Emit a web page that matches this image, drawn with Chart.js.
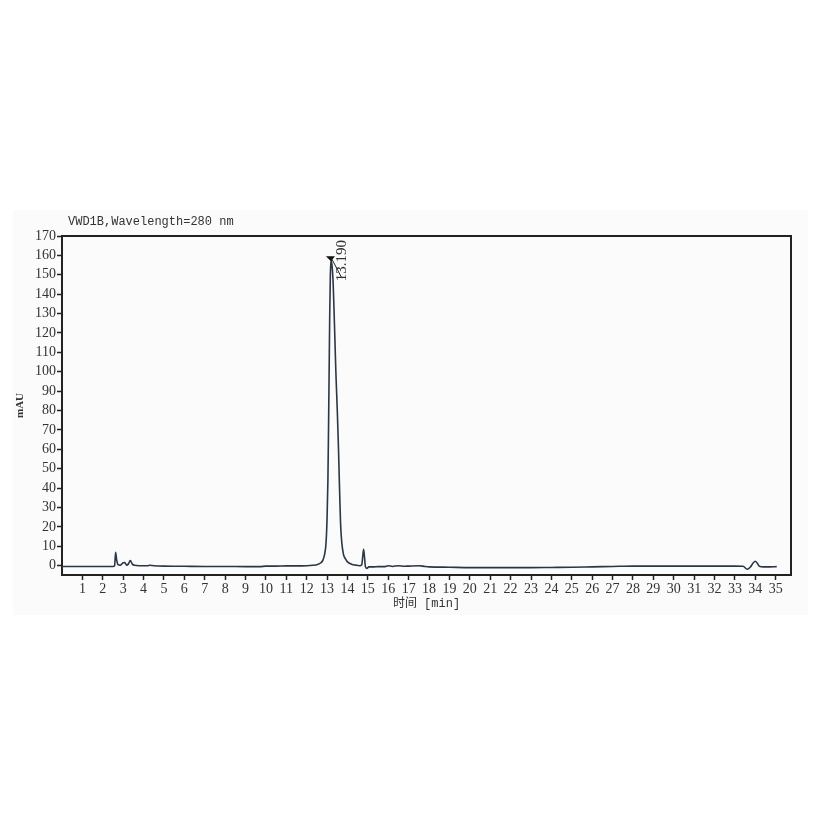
<!DOCTYPE html>
<html>
<head>
<meta charset="utf-8">
<script src="https://cdn.jsdelivr.net/npm/chart.js@4.4.1/dist/chart.umd.min.js"></script>
<style>
  html, body { margin: 0; padding: 0; background: #ffffff; }
  #wrap { width: 831px; height: 831px; position: relative; }
</style>
</head>
<body>
<div id="wrap"><canvas id="c" width="831" height="831"></canvas></div>
<script>
// ---- Data ----
const chartTitle = "VWD1B,Wavelength=280 nm";
const xAxisTitle = "时间 [min]";
const yAxisTitle = "mAU";
const peakLabel = "13.190";

const times = [
  0, 1, 2, 2.5, 2.58, 2.63, 2.68, 2.75, 2.85, 3.0, 3.08, 3.17, 3.25, 3.35, 3.45, 3.55, 3.8,
  4.2, 4.3, 4.5, 5, 6, 7, 8, 9, 9.7, 10, 10.5, 11, 11.5, 12, 12.3, 12.5,
  12.7, 12.8, 12.88, 12.95, 13.0, 13.04, 13.07, 13.1, 13.13, 13.16, 13.19, 13.24, 13.3, 13.36,
  13.43, 13.5, 13.56, 13.61, 13.66, 13.72, 13.8, 13.9, 14.0, 14.2, 14.4, 14.6,
  14.7, 14.75, 14.79, 14.83, 14.88, 14.95, 15.05, 15.3, 15.5, 15.8, 16.0, 16.2, 16.5,
  16.8, 17.0, 17.5, 17.8, 18, 19, 20, 21, 22, 23, 24, 25, 26, 27, 28, 29, 30, 31, 32, 33,
  33.4, 33.6, 33.75, 33.9, 34.0, 34.1, 34.2, 34.4, 34.7, 35.05
];
const signal = [
  -0.4, -0.4, -0.4, -0.4, 0, 6.9, 3, 0.5, 0.2, 1.5, 1.6, 0.3, 0.8, 2.6, 0.8, 0.2, 0,
  0, 0.2, 0, -0.2, -0.3, -0.4, -0.4, -0.5, -0.5, -0.2, -0.2, -0.1, -0.1, 0, 0.2, 0.5,
  1.5, 3, 6, 12, 25, 44, 70, 100, 130, 150, 157.5, 155, 145, 125,
  100, 80, 60, 40, 22, 12, 6, 3.5, 2, 0.8, 0.3, 0,
  0.5, 5, 8.5, 5, -0.5, -1.4, -0.6, -0.6, -0.5, -0.5, 0, -0.4, 0,
  -0.3, -0.2, 0, -0.4, -0.6, -0.8, -1, -1, -1, -1, -0.9, -0.8, -0.6, -0.4, -0.2, -0.2, -0.2, -0.2, -0.2, -0.2,
  -0.3, -1.8, -0.8, 1.5, 2.3, 1.2, -0.3, -0.6, -0.6, -0.5
];
const yTicks = [0,10,20,30,40,50,60,70,80,90,100,110,120,130,140,150,160,170];
const xTicks = [1,2,3,4,5,6,7,8,9,10,11,12,13,14,15,16,17,18,19,20,21,22,23,24,25,26,27,28,29,30,31,32,33,34,35];

const points = times.map((t, i) => ({ x: t, y: signal[i] }));

// peak of the trace (taken from the data)
let peakIdx = 0;
signal.forEach((v, i) => { if (v > signal[peakIdx]) peakIdx = i; });

const serif = "'Liberation Serif', 'DejaVu Serif', serif";
const mono = "'Liberation Mono', 'Noto Sans CJK SC', monospace";

const framePlugin = {
  id: 'frame',
  beforeDraw(chart) {
    const ctx = chart.ctx;
    ctx.save();
    ctx.fillStyle = '#fbfbfb';
    ctx.fillRect(13, 210, 795, 405);
    ctx.restore();
  },
  afterDraw(chart) {
    const ctx = chart.ctx;
    const a = chart.chartArea;
    ctx.save();
    ctx.strokeStyle = '#222';
    ctx.lineWidth = 2;
    ctx.beginPath();
    ctx.moveTo(a.left, a.top);
    ctx.lineTo(a.right, a.top);
    ctx.lineTo(a.right, a.bottom);
    ctx.stroke();
    // header text
    ctx.fillStyle = '#333';
    ctx.font = "12px " + mono;
    ctx.textBaseline = 'middle';
    ctx.textAlign = 'left';
    ctx.fillText(chartTitle, a.left + 6, a.top - 14);
    // peak annotation
    const xs = chart.scales.x, ys = chart.scales.y;
    const px = xs.getPixelForValue(times[peakIdx]);
    const py = ys.getPixelForValue(signal[peakIdx]);
    ctx.fillStyle = '#111';
    ctx.beginPath();
    ctx.moveTo(px, py + 1);
    ctx.lineTo(px - 5, py - 4);
    ctx.lineTo(px + 4, py - 4);
    ctx.closePath();
    ctx.fill();
    ctx.strokeStyle = '#222';
    ctx.lineWidth = 1;
    ctx.beginPath();
    ctx.moveTo(px + 1, py - 1);
    ctx.lineTo(px + 11, py + 18);
    ctx.stroke();
    ctx.translate(px + 11, py + 21);
    ctx.rotate(-Math.PI / 2);
    ctx.fillStyle = '#333';
    ctx.font = "15px " + serif;
    ctx.textAlign = 'left';
    ctx.textBaseline = 'middle';
    ctx.fillText(peakLabel, 0, 0);
    ctx.restore();
  }
};

new Chart(document.getElementById('c'), {
  type: 'line',
  data: {
    datasets: [{
      data: points,
      borderColor: '#2b3646',
      borderWidth: 1.6,
      pointRadius: 0,
      fill: false,
      cubicInterpolationMode: 'monotone'
    }]
  },
  options: {
    responsive: false,
    animation: false,
    events: [],
    layout: { padding: { left: 0, right: 40, top: 236, bottom: 218 } },
    plugins: { legend: { display: false }, tooltip: { enabled: false }, title: { display: false } },
    scales: {
      x: {
        type: 'linear',
        min: 0,
        max: 35.75,
        afterFit(s) { s.height = 38; },
        afterBuildTicks(s) { s.ticks = xTicks.map(v => ({ value: v })); },
        ticks: { autoSkip: false, maxRotation: 0, padding: 1, color: '#333', font: { family: serif, size: 14 } },
        grid: { drawOnChartArea: false, drawTicks: true, tickLength: 5, tickColor: '#222', tickWidth: 1.5 },
        border: { display: true, color: '#222', width: 2 },
        title: { display: true, text: xAxisTitle, color: '#333', padding: { top: 0, bottom: 2 }, font: { family: mono, size: 12 } }
      },
      y: {
        type: 'linear',
        min: -4.8,
        max: 170,
        afterFit(s) { s.width = 62; },
        afterBuildTicks(s) { s.ticks = yTicks.map(v => ({ value: v })); },
        ticks: { autoSkip: false, padding: 1, color: '#333', font: { family: serif, size: 14 } },
        grid: { drawOnChartArea: false, drawTicks: true, tickLength: 5, tickColor: '#222', tickWidth: 1.5 },
        border: { display: true, color: '#222', width: 2 },
        title: { display: true, text: yAxisTitle, color: '#333', padding: { top: 14, bottom: 0 }, font: { family: serif, size: 11, weight: 'bold' } }
      }
    }
  },
  plugins: [framePlugin]
});
</script>
</body>
</html>
